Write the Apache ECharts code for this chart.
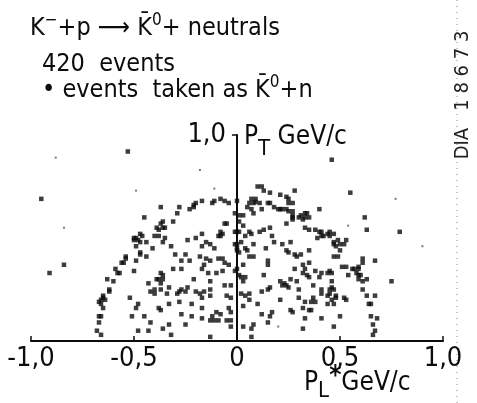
<!DOCTYPE html>
<html>
<head>
<meta charset="utf-8">
<script src="https://cdn.jsdelivr.net/npm/echarts@6/dist/echarts.min.js"></script>
<style>
  html, body { margin: 0; padding: 0; background: #fff; }
  #main { width: 477px; height: 403px; }
</style>
</head>
<body>
<div id="main"></div>
<script>
// axis ticks (P_L* and P_T, GeV/c)
var xTicks = [-1.0, -0.5, 0, 0.5, 1.0];
var yTicks = [0, 1.0];

// events: [P_L*, P_T]
var eventsUpperLeft = [
  [-0.17,0.68],[-0.20,0.67],[-0.21,0.66],[-0.23,0.64],[-0.21,0.65],[-0.28,0.65],[-0.37,0.65],[-0.29,0.62],
  [-0.45,0.60],[-0.37,0.57],[-0.36,0.58],[-0.31,0.58],[-0.36,0.55],[-0.35,0.55],[-0.39,0.55],[-0.38,0.54],
  [-0.47,0.52],[-0.46,0.51],[-0.40,0.51],[-0.38,0.51],[-0.35,0.50],[-0.50,0.50],[-0.49,0.50],[-0.50,0.49],
  [-0.48,0.49],[-0.47,0.48],[-0.44,0.48],[-0.36,0.48],[-0.49,0.46],[-0.41,0.45],[-0.32,0.46],[-0.24,0.49],
  [-0.20,0.50],[-0.17,0.52],[-0.17,0.46],[-0.47,0.43],[-0.47,0.42],[-0.44,0.41],[-0.30,0.42],[-0.25,0.42],
  [-0.18,0.41],[-0.54,0.41],[-0.54,0.40]
];
var eventsUpperMid = [
  [0.10,0.75],[0.12,0.75],[0.13,0.73],[0.16,0.72],[0.28,0.73],[0.21,0.71],[-0.08,0.69],[-0.06,0.68],
  [-0.04,0.67],[-0.12,0.67],[-0.11,0.68],[0.00,0.68],[0.07,0.69],[0.09,0.69],[0.06,0.67],[0.08,0.67],
  [0.09,0.675],[0.11,0.67],[0.15,0.67],[0.16,0.67],[0.24,0.70],[0.25,0.69],[0.25,0.67],[0.27,0.67],
  [0.05,0.65],[0.07,0.64],[0.12,0.64],[0.18,0.65],[0.20,0.64],[0.21,0.64],[0.22,0.64],[0.24,0.64],
  [0.25,0.63],[0.27,0.63],[0.08,0.62],[-0.01,0.62],[0.01,0.61],[0.03,0.61],[0.27,0.61],[0.27,0.60],
  [0.31,0.61],[0.33,0.62],[0.34,0.62],[0.30,0.60],[0.32,0.59],[0.33,0.60],[0.35,0.60],[0.40,0.64],
  [0.24,0.57],[0.27,0.59],[-0.06,0.57],[-0.05,0.57],[0.01,0.58],[0.03,0.56],[0.16,0.55],[0.33,0.55],
  [0.35,0.54],[0.38,0.54],[0.40,0.53],[0.41,0.53],[-0.08,0.53],[-0.07,0.52],[-0.08,0.51],[-0.09,0.51],
  [-0.01,0.53],[0.00,0.53],[0.01,0.53],[0.06,0.53],[0.07,0.52],[0.11,0.53],[0.13,0.54],[0.04,0.51],
  [0.17,0.51],[0.18,0.48],[0.22,0.47],[0.26,0.48],[0.39,0.50],[0.41,0.51],[0.42,0.51],[-0.15,0.48],
  [-0.13,0.47],[-0.11,0.45],[-0.01,0.47],[0.00,0.47],[0.02,0.48],[0.08,0.47],[0.04,0.45],[0.05,0.44],
  [0.00,0.45],[0.00,0.44],[0.01,0.43],[0.14,0.45],[0.24,0.44],[0.25,0.43],[0.28,0.42],[0.29,0.41],
  [0.31,0.42],[0.35,0.44],[-0.09,0.40],[-0.07,0.40],[0.06,0.41],[0.08,0.41],[-0.15,0.40]
];
var eventsUpperRight = [
  [0.55,0.72],[0.62,0.60],[0.63,0.54],[0.79,0.53],[0.45,0.53],[0.45,0.51],[0.44,0.52],[0.47,0.52],
  [0.49,0.49],[0.53,0.49],[0.47,0.48],[0.47,0.47],[0.50,0.47],[0.52,0.47],[0.48,0.46],[0.50,0.44],
  [0.47,0.41],[0.49,0.41],[0.61,0.40],[0.67,0.39]
];
var eventsLowerLeft = [
  [-0.55,0.38],[-0.56,0.38],[-0.49,0.39],[-0.59,0.35],[-0.58,0.33],[-0.57,0.33],[-0.50,0.34],[-0.63,0.30],
  [-0.60,0.29],[-0.62,0.25],[-0.62,0.24],[-0.65,0.21],[-0.66,0.20],[-0.64,0.20],[-0.66,0.18],[-0.67,0.19],
  [-0.65,0.22],[-0.65,0.16],[-0.67,0.12],[-0.66,0.12],[-0.67,0.09],[-0.68,0.05],[-0.66,0.03],[-0.52,0.21],
  [-0.48,0.18],[-0.49,0.16],[-0.51,0.12],[-0.45,0.12],[-0.42,0.09],[-0.48,0.05],[-0.43,0.05],[-0.36,0.06],
  [-0.32,0.03],[-0.37,0.33],[-0.36,0.32],[-0.39,0.30],[-0.38,0.30],[-0.36,0.30],[-0.43,0.28],[-0.37,0.28],
  [-0.40,0.25],[-0.37,0.25],[-0.33,0.26],[-0.42,0.24],[-0.40,0.23],[-0.34,0.23],[-0.29,0.23],[-0.28,0.24],
  [-0.27,0.25],[-0.25,0.24],[-0.24,0.26],[-0.20,0.24],[-0.18,0.23],[-0.16,0.24],[-0.31,0.35],[-0.27,0.39],
  [-0.23,0.39],[-0.27,0.35],[-0.16,0.37],[-0.17,0.35],[-0.21,0.30],[-0.38,0.16],[-0.37,0.15],[-0.33,0.18],
  [-0.28,0.19],[-0.22,0.18],[-0.17,0.16],[-0.27,0.13],[-0.22,0.12],[-0.33,0.08],[-0.25,0.08],[-0.17,0.11],
  [-0.17,0.21]
];
var eventsLowerMid = [
  [-0.13,0.39],[-0.06,0.38],[-0.04,0.37],[0.03,0.37],[0.15,0.39],[0.15,0.37],[0.32,0.37],[0.33,0.35],
  [0.35,0.38],[-0.14,0.33],[-0.13,0.29],[-0.10,0.33],[-0.07,0.34],[-0.01,0.34],[0.00,0.35],[0.01,0.32],
  [0.02,0.31],[0.04,0.31],[0.03,0.29],[0.13,0.32],[0.28,0.35],[0.32,0.33],[0.34,0.32],[0.38,0.34],
  [0.41,0.33],[0.21,0.29],[0.23,0.28],[0.24,0.27],[0.25,0.26],[0.22,0.27],[0.26,0.30],[0.29,0.29],
  [0.35,0.31],[0.40,0.31],[-0.06,0.27],[-0.03,0.27],[-0.13,0.25],[-0.13,0.22],[0.16,0.26],[0.15,0.25],
  [0.12,0.24],[0.30,0.25],[0.41,0.25],[0.41,0.23],[0.37,0.27],[-0.05,0.22],[-0.03,0.21],[0.02,0.23],
  [0.04,0.22],[0.06,0.23],[0.06,0.20],[0.03,0.17],[0.10,0.18],[0.21,0.20],[0.30,0.21],[0.33,0.19],
  [0.32,0.16],[0.37,0.21],[0.38,0.19],[0.36,0.19],[-0.04,0.16],[-0.03,0.14],[-0.10,0.14],[-0.12,0.12],
  [-0.13,0.10],[-0.11,0.10],[-0.09,0.10],[-0.08,0.13],[-0.05,0.10],[-0.03,0.10],[-0.03,0.07],[0.17,0.14],
  [0.16,0.12],[0.12,0.13],[0.15,0.09],[0.26,0.15],[0.27,0.14],[0.35,0.15],[0.36,0.15],[0.33,0.11],
  [0.41,0.11],[0.08,0.08],[0.03,0.07],[0.07,0.06],[0.32,0.06],[-0.13,0.02],[0.07,0.02]
];
var eventsLowerRight = [
  [0.61,0.38],[0.51,0.36],[0.53,0.36],[0.56,0.35],[0.57,0.35],[0.59,0.36],[0.59,0.35],[0.54,0.32],
  [0.58,0.33],[0.59,0.32],[0.60,0.32],[0.45,0.34],[0.46,0.33],[0.44,0.33],[0.59,0.30],[0.61,0.29],
  [0.63,0.30],[0.75,0.29],[0.46,0.29],[0.61,0.25],[0.46,0.26],[0.45,0.25],[0.47,0.25],[0.45,0.23],
  [0.44,0.22],[0.48,0.22],[0.48,0.21],[0.52,0.21],[0.53,0.20],[0.46,0.20],[0.44,0.18],[0.47,0.18],
  [0.63,0.22],[0.67,0.22],[0.64,0.18],[0.65,0.18],[0.50,0.12],[0.65,0.12],[0.68,0.11],[0.47,0.07],
  [0.66,0.08],[0.67,0.05],[0.66,0.03]
];
var eventsOutliers = [[-0.53,0.92],[-0.95,0.69],[-0.84,0.37],[-0.91,0.33],[0.46,0.88]];
// faint small dots
var specks = [[-0.11,0.74],[0.77,0.69],[0.54,0.56],[0.90,0.46],[0.20,0.07],[-0.84,0.55],[-0.18,0.83],[-0.49,0.73],[-0.88,0.89]];

var events = [].concat(eventsUpperLeft, eventsUpperMid, eventsUpperRight,
  eventsLowerLeft, eventsLowerMid, eventsLowerRight, eventsOutliers);

var FONT = '"Liberation Sans Narrow", "DejaVu Sans Condensed", "DejaVu Sans", sans-serif';
var INK = '#0c0c0c';

function fmt(v) {
  if (v === 0) return '0';
  return v.toFixed(1).replace('.', ',');
}

var myChart = echarts.init(document.getElementById('main'), null, {renderer: 'canvas'});
var option = {
  backgroundColor: '#fff',
  animation: false,
  grid: { left: 31, right: 34, top: 135, bottom: 62, containLabel: false, outerBoundsMode: 'none' },
  xAxis: {
    type: 'value',
    min: xTicks[0], max: xTicks[xTicks.length - 1], interval: 0.5,
    axisLine: { onZero: false, lineStyle: { color: INK, width: 2 } },
    axisTick: { inside: true, length: 5, lineStyle: { color: INK, width: 1.5 } },
    splitLine: { show: false },
    axisLabel: {
      formatter: fmt, color: INK, fontSize: 27, fontFamily: FONT, margin: 4
    }
  },
  yAxis: {
    type: 'value',
    min: yTicks[0], max: yTicks[1], interval: 1,
    // shift the axis from the grid's left edge to P_L* = 0
    offset: -206,
    axisLine: { onZero: false, lineStyle: { color: INK, width: 2 } },
    axisTick: { length: 5, lineStyle: { color: INK, width: 1.5 } },
    splitLine: { show: false },
    axisLabel: {
      formatter: function (v) { return v === 1 ? fmt(v) : ''; },
      color: INK, fontSize: 27, fontFamily: FONT, margin: 11, padding: [8, 0, 0, 0]
    }
  },
  series: [
    {
      name: 'events', type: 'scatter', symbol: 'rect', symbolSize: 4.5,
      itemStyle: { color: INK }, data: events
    },
    {
      name: 'specks', type: 'scatter', symbol: 'rect', symbolSize: 2,
      itemStyle: { color: '#555' }, data: specks
    }
  ],
  graphic: [
    { // scan fold
      type: 'line', shape: { x1: 457, y1: 0, x2: 457, y2: 403 },
      style: { stroke: '#888', lineWidth: 1, lineDash: [1, 5] }, silent: true
    },
    {
      type: 'text', left: 30, top: 12,
      style: {
        text: '{m|K}{s|\u2212}{m|+p \u27F6 K\u0304}{s|0}{m|+ neutrals}',
        fill: INK,
        rich: {
          m: { fontSize: 25, fontFamily: FONT, lineHeight: 32, fill: INK },
          s: { fontSize: 17, fontFamily: FONT, verticalAlign: 'top', lineHeight: 20, fill: INK }
        }
      }
    },
    {
      type: 'text', left: 42, top: 52,
      style: { text: '420  events', fill: INK, fontSize: 25, fontFamily: FONT }
    },
    {
      type: 'text', left: 42, top: 74,
      style: {
        text: '{m|\u2022 events  taken as K\u0304}{s|0}{m|+n}',
        fill: INK,
        rich: {
          m: { fontSize: 25, fontFamily: FONT, lineHeight: 32, fill: INK },
          s: { fontSize: 17, fontFamily: FONT, verticalAlign: 'top', lineHeight: 20, fill: INK }
        }
      }
    },
    {
      type: 'text', left: 244, top: 124,
      style: {
        text: '{m|P}{b|T}{m| GeV/c}',
        fill: INK,
        rich: {
          m: { fontSize: 26, fontFamily: FONT, lineHeight: 36, verticalAlign: 'top', fill: INK },
          b: { fontSize: 22, fontFamily: FONT, lineHeight: 24, verticalAlign: 'bottom', fill: INK }
        }
      }
    },
    {
      type: 'text', left: 304, top: 364,
      style: {
        text: '{m|P}{b|L}{s|*}{m|GeV/c}',
        fill: INK,
        rich: {
          m: { fontSize: 26, fontFamily: FONT, lineHeight: 38, verticalAlign: 'middle', fill: INK },
          b: { fontSize: 22, fontFamily: FONT, lineHeight: 24, verticalAlign: 'bottom', fill: INK },
          s: { fontSize: 26, fontWeight: 'bold', fontFamily: FONT, lineHeight: 28, verticalAlign: 'top', fill: INK }
        }
      }
    },
    {
      type: 'text', x: 463, y: 95, rotation: Math.PI / 2,
      style: {
        text: 'DIA   1 8 6 7 3', fill: '#222', fontSize: 20, fontFamily: FONT,
        align: 'center', verticalAlign: 'middle'
      }
    }
  ]
};
myChart.setOption(option);
</script>
</body>
</html>
